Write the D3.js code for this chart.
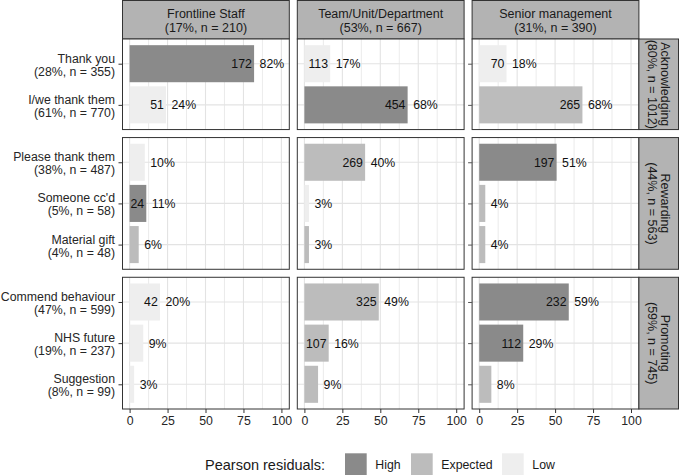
<!DOCTYPE html>
<html>
<head>
<meta charset="utf-8">
<script src="https://cdn.jsdelivr.net/npm/d3@7"></script>
<style>
  html, body { margin: 0; padding: 0; background: #fff; }
  svg { display: block; font-family: "Liberation Sans", Arial, Helvetica, sans-serif; }
</style>
</head>
<body>
<svg id="chart" width="679" height="476"></svg>
<script>
// ---------------- data ----------------
const colGroups = ["Frontline Staff", "Team/Unit/Department", "Senior management"];
const colLabels = ["(17%, n = 210)", "(53%, n = 667)", "(31%, n = 390)"];
const rowGroups = ["Acknowledging", "Rewarding", "Promoting"];
const rowLabels = ["(80%, n = 1012)", "(44%, n = 563)", "(59%, n = 745)"];
const categories = ["Thank you", "I/we thank them", "Please thank them", "Someone cc'd",
                    "Material gift", "Commend behaviour", "NHS future", "Suggestion"];
const categoryGroup = [0, 0, 1, 1, 1, 2, 2, 2];
const categoryLabels = ["(28%, n = 355)", "(61%, n = 770)", "(38%, n = 487)", "(5%, n = 58)",
                        "(4%, n = 48)", "(47%, n = 599)", "(19%, n = 237)", "(8%, n = 99)"];
const countsFrontline = [172, 51, 21, 24, 13, 42, 18, 7];
const countsTeam      = [113, 454, 269, 18, 19, 325, 107, 61];
const countsSenior    = [70, 265, 197, 16, 16, 232, 112, 31];
const pctFrontline = [82, 24, 10, 11, 6, 20, 9, 3];
const pctTeam      = [17, 68, 40, 3, 3, 49, 16, 9];
const pctSenior    = [18, 68, 51, 4, 4, 59, 29, 8];
const residFrontline = ["High", "Low", "Low", "High", "Expected", "Low", "Low", "Low"];
const residTeam      = ["Low", "High", "Expected", "Low", "Expected", "Expected", "Expected", "Expected"];
const residSenior    = ["Low", "Expected", "High", "Expected", "Expected", "High", "High", "Expected"];
const residLevels = ["High", "Expected", "Low"];
const xTicks = [0, 25, 50, 75, 100];
const xMinorTicks = [12.5, 37.5, 62.5, 87.5];
const legendTitle = "Pearson residuals:";

const counts = [countsFrontline, countsTeam, countsSenior];
const pcts = [pctFrontline, pctTeam, pctSenior];
const resids = [residFrontline, residTeam, residSenior];

// ---------------- layout ----------------
const svg = d3.select("#chart");
const fill = d3.scaleOrdinal().domain(residLevels).range(["#8a8a8a", "#bcbcbc", "#eeeeee"]);

const panelW = 166.8, panelGap = 8;
const panelLeft = [122.5, 122.5 + panelW + panelGap, 122.5 + 2 * (panelW + panelGap)];
const headerTop = 0.5, headerBottom = 39;
const rowGap = 8;
const rowCounts = rowGroups.map((g, i) => categoryGroup.filter(c => c === i).length);
const totalPanelH = 409 - headerBottom - rowGap * (rowGroups.length - 1);
const unit = totalPanelH / d3.sum(rowCounts, n => n - 1 + 1.2);
const rowTop = [], rowBottom = [];
let yy = headerBottom;
rowCounts.forEach((n, i) => {
  rowTop.push(yy);
  const h = (n - 1 + 1.2) * unit;
  rowBottom.push(yy + h);
  yy += h + rowGap;
});
const stripLeft = panelLeft[2] + panelW, stripRight = 678.5;

const gridCol = "#e3e3e3";
const borderCol = "#333333";
const textCol = "#1a1a1a";
const axisTextCol = "#262626";

// ---------------- header strips ----------------
colGroups.forEach((g, j) => {
  const gS = svg.append("g");
  gS.append("rect").attr("x", panelLeft[j]).attr("y", headerTop)
    .attr("width", panelW).attr("height", headerBottom - headerTop)
    .attr("fill", "#b3b3b3").attr("stroke", borderCol).attr("stroke-width", 1);
  const t = gS.append("text").attr("text-anchor", "middle").attr("fill", textCol)
    .attr("font-size", 12.5);
  t.append("tspan").attr("x", panelLeft[j] + panelW / 2).attr("y", 18.3).text(g);
  t.append("tspan").attr("x", panelLeft[j] + panelW / 2).attr("y", 31.5).text(colLabels[j]);
});

// ---------------- panels ----------------
rowGroups.forEach((rg, i) => {
  const cats = categories.filter((c, k) => categoryGroup[k] === i);
  const y = d3.scalePoint().domain(cats).range([rowTop[i], rowBottom[i]]).padding(0.6);
  const barH = 0.9 * y.step();

  colGroups.forEach((cg, j) => {
    const x = d3.scaleLinear().domain([-4.68, 105.2]).range([panelLeft[j], panelLeft[j] + panelW]);
    const p = svg.append("g");
    // background
    p.append("rect").attr("x", panelLeft[j]).attr("y", rowTop[i])
      .attr("width", panelW).attr("height", rowBottom[i] - rowTop[i]).attr("fill", "#fff");
    // grid
    p.selectAll(".gminor").data(xMinorTicks).join("line")
      .attr("x1", d => x(d)).attr("x2", d => x(d))
      .attr("y1", rowTop[i]).attr("y2", rowBottom[i])
      .attr("stroke", gridCol).attr("stroke-width", 0.7);
    p.selectAll(".gmajor").data(xTicks).join("line")
      .attr("x1", d => x(d)).attr("x2", d => x(d))
      .attr("y1", rowTop[i]).attr("y2", rowBottom[i])
      .attr("stroke", gridCol).attr("stroke-width", 1.1);
    p.selectAll(".gh").data(cats).join("line")
      .attr("x1", panelLeft[j]).attr("x2", panelLeft[j] + panelW)
      .attr("y1", d => y(d)).attr("y2", d => y(d))
      .attr("stroke", gridCol).attr("stroke-width", 1.1);

    // bars
    const rows = cats.map(c => {
      const k = categories.indexOf(c);
      return { cat: c, pct: pcts[j][k], n: counts[j][k], res: resids[j][k] };
    });
    p.selectAll(".bar").data(rows).join("rect")
      .attr("x", x(0)).attr("y", d => y(d.cat) - barH / 2)
      .attr("width", d => x(d.pct) - x(0)).attr("height", barH)
      .attr("fill", d => fill(d.res));

    // labels
    p.selectAll(".cnt").data(rows.filter(d => d.pct > 10)).join("text")
      .attr("x", d => x(d.pct) - 2.2).attr("y", d => y(d.cat)).attr("dy", "0.36em")
      .attr("text-anchor", "end").attr("font-size", 12.3).attr("fill", "#111")
      .text(d => d.n);
    p.selectAll(".pct").data(rows).join("text")
      .attr("x", d => x(d.pct) + 5.5).attr("y", d => y(d.cat)).attr("dy", "0.36em")
      .attr("text-anchor", "start").attr("font-size", 12.3).attr("fill", "#111")
      .text(d => d.pct + "%");

    // border
    p.append("rect").attr("x", panelLeft[j]).attr("y", rowTop[i])
      .attr("width", panelW).attr("height", rowBottom[i] - rowTop[i])
      .attr("fill", "none").attr("stroke", borderCol).attr("stroke-width", 1);

    // y axis on first column
    if (j === 0) {
      const ax = svg.append("g").attr("transform", `translate(${panelLeft[0]},0)`)
        .call(d3.axisLeft(y).tickSize(4).tickPadding(3).tickFormat(""));
      ax.select(".domain").remove();
      ax.selectAll(".tick line").attr("stroke", borderCol).attr("stroke-width", 1);
      ax.selectAll(".tick").each(function(d) {
        const k = categories.indexOf(d);
        const t = d3.select(this).select("text").attr("fill", axisTextCol)
          .attr("font-size", 12.3).attr("text-anchor", "end").attr("dy", null).attr("y", null);
        t.text(null);
        t.append("tspan").attr("x", -7.5).attr("y", -1.5).text(d);
        t.append("tspan").attr("x", -7.5).attr("y", 11.5).text(categoryLabels[k]);
      });
    }
    if (j === 2) {
      const ax3 = svg.append("g").attr("transform", `translate(${panelLeft[2]},0)`)
        .call(d3.axisLeft(y).tickSize(4).tickFormat(""));
      ax3.select(".domain").remove();
      ax3.selectAll(".tick line").attr("stroke", "#555").attr("stroke-width", 1);
    }
    // x axis on last row
    if (i === rowGroups.length - 1) {
      const axx = svg.append("g").attr("transform", `translate(0,${rowBottom[i]})`)
        .call(d3.axisBottom(x).tickValues(xTicks).tickSize(4).tickPadding(3));
      axx.select(".domain").remove();
      axx.selectAll(".tick line").attr("stroke", borderCol).attr("stroke-width", 1);
      axx.selectAll(".tick text").attr("fill", axisTextCol).attr("font-size", 12.3)
        .attr("font-family", null);
    }
  });

  // right strip
  const sg = svg.append("g");
  sg.append("rect").attr("x", stripLeft).attr("y", rowTop[i])
    .attr("width", stripRight - stripLeft).attr("height", rowBottom[i] - rowTop[i])
    .attr("fill", "#b3b3b3").attr("stroke", borderCol).attr("stroke-width", 1);
  const cx = (stripLeft + stripRight) / 2, cy = (rowTop[i] + rowBottom[i]) / 2;
  const st = sg.append("text").attr("transform", `translate(${cx},${cy}) rotate(90)`)
    .attr("text-anchor", "middle").attr("fill", textCol).attr("font-size", 12.5);
  st.append("tspan").attr("x", 0).attr("y", -2.2).text(rg);
  st.append("tspan").attr("x", 0).attr("y", 11).text(rowLabels[i]);
});

// ---------------- legend ----------------
const lg = svg.append("g");
lg.append("text").attr("x", 205).attr("y", 470).attr("font-size", 14.5).attr("fill", textCol)
  .text(legendTitle);
const keyX = [345, 411, 502];
residLevels.forEach((r, k) => {
  lg.append("rect").attr("x", keyX[k]).attr("y", 453.3).attr("width", 21.7).attr("height", 21.7)
    .attr("fill", fill(r));
  lg.append("text").attr("x", keyX[k] + 30.3).attr("y", 468.5).attr("font-size", 12.3)
    .attr("fill", textCol).text(r);
});
</script>
</body>
</html>
